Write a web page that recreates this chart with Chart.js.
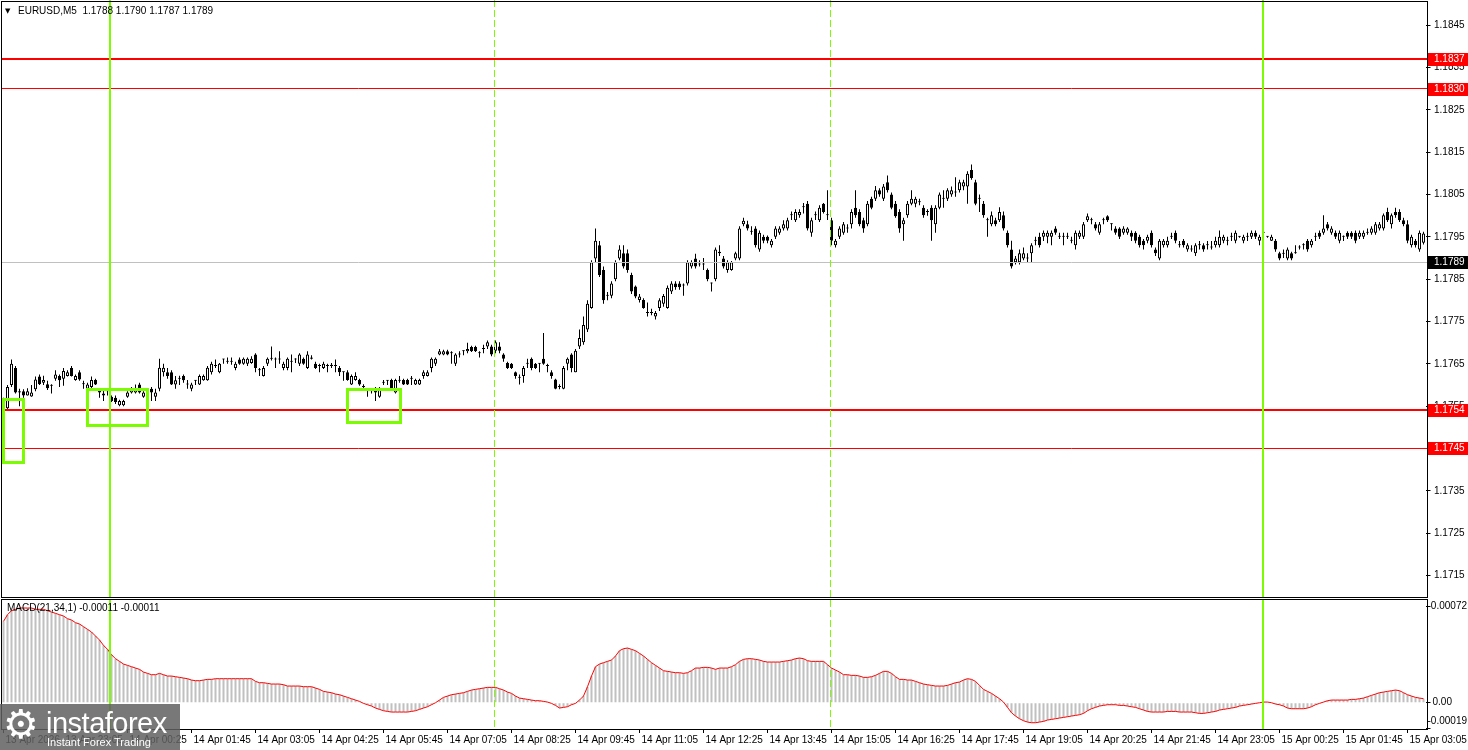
<!DOCTYPE html>
<html>
<head>
  <meta charset="utf-8">
  <title>EURUSD M5 with MACD</title>
  <script src="https://cdn.jsdelivr.net/npm/chart.js"></script>
  <style>
    body { margin: 0; background: #fff; width: 1468px; height: 750px; overflow: hidden; position: relative; }
    canvas { position: absolute; left: 0; }
    #priceChart { top: 0; }
    #macdChart { top: 598px; }
    #logo { position: absolute; left: 0; top: 704px; width: 180px; height: 46px; background: rgba(96, 96, 96, 0.85); color: #fff; font-family: 'Liberation Sans', Arial, sans-serif; }
    #logo .gear { position: absolute; left: 3px; top: -3px; font: 40px 'DejaVu Sans'; }
    #logo .brand { position: absolute; left: 46px; top: 3px; font-size: 29px; letter-spacing: -0.5px; }
    #logo .tag { position: absolute; left: 47px; top: 32px; font-size: 11px; }
  </style>
</head>
<body>
  <canvas id="priceChart" width="1468" height="598"></canvas>
  <canvas id="macdChart" width="1468" height="152"></canvas>
  <div id="logo"><span class="gear">⚙</span><span class="brand">instaforex</span><span class="tag">Instant Forex Trading</span></div>
  <script>
    // prices are kept in pips above 1.1700, one entry per M5 bar (13 Apr 21:50 .. 15 Apr 03:25)
    const PIP_BASE = 1.17;
    const openPips = [
      50.5, 54.5, 60, 64, 58.2, 58.5, 57.5, 57.3, 59, 62,
      60.5, 60.2, 59.8, 61.5, 62.1, 61.5, 62.1, 64, 61.2, 63,
      60.2, 59.1, 59.5, 61.2, 58.9, 58, 58.5, 57.2, 57, 55.2,
      55.2, 57.2, 58.2, 58.2, 60.1, 57.2, 58.2, 59.1, 57.2, 59.1,
      63, 63, 63, 60.1, 61.5, 62.1, 60.1, 59.1, 61, 60.1,
      61.1, 61.1, 63, 64.5, 63, 66, 65.5, 65.5, 64, 66,
      65, 65, 65.2, 67.2, 63.5, 62.1, 65, 66.2, 66.2, 66,
      64, 64, 65.5, 66, 65, 66.2, 64, 66.5, 65, 64.5,
      64, 64.5, 64.5, 64.5, 64, 63, 63, 60.1, 61.2, 61.2,
      59.5, 59.1, 58.7, 59.1, 57.2, 60.5, 61, 61.2, 58.2, 61,
      61.2, 61.2, 61.5, 60.1, 60.1, 62.1, 62.1, 64, 65, 67.2,
      67.2, 68, 67.5, 65, 67.2, 68, 68, 69, 69, 67.5,
      68.5, 69.1, 69.1, 68.1, 69.1, 67.2, 65.2, 65, 63, 61.7,
      62.1, 65, 66.2, 65, 65, 66.2, 64.5, 63, 61.3, 59.5,
      59.1, 65, 67.2, 63, 69.1, 70.1, 73.1, 78.2, 89.9, 93,
      87.2, 81.1, 81.1, 85, 89.9, 91.1, 91.1, 86, 83.3, 80.1,
      80.1, 77, 77, 76.2, 78.2, 79.2, 78.2, 82.1, 84, 84,
      83.5, 84, 88, 89.9, 88.5, 88.5, 87.2, 84, 85, 91.5,
      89.9, 87.2, 87.2, 89.9, 89.9, 98, 98, 96.2, 97, 92,
      95, 95, 93, 95, 96, 97, 97, 100.1, 98.9, 100.1,
      102, 102.8, 96, 100.1, 98.9, 102.8, 100.1, 98.9, 93, 95,
      96, 97, 98, 101.9, 100.9, 98.9, 98, 104, 104, 106,
      104, 107.9, 105, 102.8, 100.9, 98, 100.1, 102.8, 102.8, 103.2,
      101.9, 100.9, 101.9, 98, 101.9, 104, 104, 105, 105.5, 106,
      106.9, 106.9, 110.8, 107.9, 104, 102.8, 98.9, 98, 98.9, 98.9,
      100.1, 96, 92, 89, 89, 89.9, 89.9, 91.1, 94.1, 95,
      95, 95, 95, 97, 95, 95, 95, 94.1, 93, 95,
      95, 98.9, 98.9, 98, 96, 98.9, 99.9, 98, 97, 97,
      96, 96, 96, 96, 95, 94.1, 94.1, 96, 92, 89.9,
      93, 93, 95, 96, 93, 94.1, 92, 92, 91.1, 93,
      93, 93, 92.5, 93, 93, 94.1, 94.1, 95, 94.1, 95,
      94.1, 95, 95, 96, 94.1, 96, 95, 94.1, 94.1, 91.1,
      91, 89.9, 91.1, 91.1, 92.5, 93, 94.1, 93, 95, 96,
      96, 98, 96, 96, 94.1, 95, 96, 96, 96, 95,
      95, 96, 96, 96, 97, 97, 100.9, 98, 100.9, 100.9,
      98.9, 98, 93, 94.1, 92, 93.6
    ];
    const highPips = [
      57, 60, 66, 64.5, 59.1, 59, 59.2, 60, 62, 62.5,
      62.2, 61, 60.2, 63.5, 62.5, 64, 63.5, 64.5, 62.5, 63.5,
      61, 60.5, 62, 61.5, 59.2, 59.1, 58.8, 57.5, 57.5, 56.5,
      56.5, 58.5, 59.5, 60.1, 60.5, 58.5, 59, 59.5, 59.1, 66.2,
      65, 64, 63.5, 62.1, 62.2, 62.5, 61.2, 60.5, 61.2, 62.5,
      62.5, 64.5, 65.5, 66, 65.2, 66.2, 66.5, 66.5, 65.5, 66.5,
      66.5, 66.5, 66.8, 67.5, 64, 64.5, 66.5, 69.1, 66.5, 68,
      65.5, 66.5, 67.2, 66.3, 67.5, 66.5, 68, 67, 65.5, 65,
      65.5, 65, 65.2, 66, 64.5, 63.2, 63.5, 62.5, 63, 61.5,
      60.2, 59.3, 59.3, 59.5, 59.5, 61.2, 61.2, 61.5, 61.5, 62.1,
      61.5, 61.5, 62.1, 61.5, 61.5, 63.5, 63.5, 66.5, 66.5, 68.5,
      68.3, 68.3, 68, 67.5, 68, 68.2, 70, 69.3, 69.3, 68,
      69.5, 70.5, 69.5, 70.5, 70.1, 67.5, 65.5, 65.2, 63.2, 62.5,
      64.5, 66.2, 66.5, 65.2, 65.2, 72.3, 65, 63.5, 61.5, 60.2,
      64.5, 66.5, 67.5, 68.5, 73.1, 76.2, 80, 89.5, 97, 94,
      88, 82, 84.5, 89.5, 93, 93, 92, 86.5, 83.5, 81.5,
      80.5, 79.5, 78, 77.5, 80.5, 81.5, 83.5, 84.5, 84.5, 84.5,
      84, 89.5, 89.5, 91, 89.5, 90, 87.5, 84.2, 92.5, 93,
      90.5, 89.5, 89.3, 91.5, 97.5, 99.5, 98.8, 97.5, 97.5, 96.5,
      95.5, 95.3, 94.5, 97.5, 97.5, 98.9, 99.5, 101, 101.5, 101.5,
      103, 103.5, 99.5, 101, 102.5, 103, 106, 99.5, 94.5, 97.5,
      98.5, 98, 101.5, 106, 101.5, 99.5, 103.5, 104.5, 107, 106.5,
      107.5, 109.5, 105.5, 103.5, 101.5, 99.5, 103.5, 106, 104.5, 104,
      102.5, 101.5, 102.5, 102.5, 105.5, 106, 106.5, 106.9, 109.1, 108.5,
      108.5, 110.5, 112.1, 108.5, 105, 103.5, 99.5, 101, 99.5, 102,
      101, 96.5, 94.1, 90.5, 92, 92.5, 91.1, 93.5, 95, 96,
      96.5, 96.5, 96.5, 97.5, 96, 96, 96, 95, 96.5, 96.5,
      98.5, 100.5, 99.5, 98.5, 98.5, 99.5, 100.1, 98.2, 97.5, 97.3,
      97.5, 97.3, 96.5, 96.3, 95.5, 94.5, 95.5, 96.5, 92.5, 94.5,
      94.5, 95, 96, 96.5, 94, 94.5, 93.5, 93, 93.5, 94,
      93.5, 94, 94, 95, 96.5, 95.5, 95, 96, 96.5, 95.2,
      95.5, 96, 96.5, 96.5, 95.5, 96.2, 95.2, 95.5, 94.5, 91.5,
      92, 92.5, 91.5, 93, 93, 93.5, 94.5, 94.5, 96, 96.5,
      100.1, 98.5, 97.5, 96.5, 96.5, 95.3, 96.3, 96.3, 96.5, 96.5,
      96.5, 97, 97.5, 98.5, 98.5, 100.5, 101.9, 100.5, 101.9, 101.5,
      99.5, 98.9, 95.5, 94.5, 96.5, 96.2
    ];
    const lowPips = [
      49, 54, 59.5, 58, 55, 57, 57.5, 57.2, 58.5, 60,
      60, 58.8, 58, 61, 59.5, 59.8, 62, 62, 61, 61,
      59.1, 59, 59, 60, 57, 56.2, 57.5, 56, 55.5, 55,
      55, 57, 58, 58, 58, 57, 57.5, 56.2, 56.2, 58.5,
      62, 61.5, 60, 59.1, 60, 60.5, 59.1, 58.5, 60, 60,
      61, 61, 62.5, 64, 62.8, 65, 65, 64.8, 63.5, 64.8,
      64.8, 64.5, 65, 63, 62.1, 62, 64.5, 65.8, 64, 65,
      63.5, 63.5, 63, 65.2, 64.5, 64.8, 63.8, 66, 63.8, 63,
      63.8, 63, 64, 63, 62.1, 61, 61, 60, 61, 59.8,
      59, 57.2, 58, 56.2, 57, 60, 60, 59, 58, 60.5,
      60, 60, 60, 60, 60, 61.5, 62, 63, 64.5, 67,
      67, 67, 65, 64.5, 66.5, 67, 67.5, 67.8, 67.8, 66.5,
      67.5, 68.5, 66.8, 67.5, 67.5, 65.5, 63.8, 63.8, 61.5, 60.1,
      60.5, 64, 63.5, 63.8, 63, 64.8, 63, 61.5, 59, 59,
      59, 63.5, 63, 63, 68.5, 69.5, 72.5, 78, 89, 85.5,
      79.2, 80, 80.5, 84.5, 89.5, 87.5, 86.5, 81.5, 80.5, 79.5,
      78, 76.2, 76.5, 75.5, 77.5, 78.5, 78, 81.5, 82.5, 82.5,
      81.1, 83.5, 87.5, 87.5, 88, 87.2, 84.5, 82.1, 84.5, 90.5,
      87.5, 86.5, 87, 89.5, 89.5, 97.5, 96.5, 95.5, 92.5, 91.5,
      93.5, 93.5, 92.5, 94.5, 95.5, 96.5, 96.5, 99, 98.5, 99.5,
      100.5, 96.5, 95, 99, 98.5, 100.5, 99, 93, 92.5, 94.5,
      95.5, 96, 97, 99.5, 97.5, 96, 97.5, 101.5, 103.5, 104.5,
      103.5, 105.5, 101.5, 99.5, 96, 94.1, 99.5, 102.5, 102, 102.5,
      99.5, 100, 94.1, 96, 101.5, 101.9, 103.5, 104.5, 104.5, 105.5,
      106, 102.8, 108.5, 102.5, 100.9, 99.5, 95, 97.5, 97.5, 98.5,
      96.5, 92.5, 87.5, 88.5, 88.5, 89.5, 89, 89, 93, 92.5,
      94, 93.5, 93, 95.5, 94.5, 93, 94.5, 93.5, 92, 94.5,
      94.5, 98.5, 98, 96.5, 95.5, 98, 98.5, 96.5, 95.5, 94.5,
      95.5, 95.5, 94, 93.5, 92.5, 92, 93.5, 92.5, 90.5, 89.5,
      92.5, 92.5, 94.5, 93.5, 92.5, 92.5, 91.5, 91.5, 90.5, 92,
      91.5, 92, 92, 92.5, 92.5, 93.5, 93, 94, 93.5, 94.8,
      93.5, 94, 94.5, 94.5, 93, 95.8, 94.8, 94, 91.5, 89.5,
      90, 89.5, 89.5, 91, 92, 92, 91.5, 92.5, 94, 94.5,
      95.5, 96.5, 95.5, 94.5, 93.5, 94, 94.5, 94.5, 93.5, 94.5,
      94.5, 95.5, 95.5, 95.5, 96.5, 96.5, 98.5, 97, 99.5, 98.5,
      97.5, 93.5, 92.5, 92.5, 91.5, 93.2
    ];
    const closePips = [
      56, 59.5, 65, 58.2, 58.5, 57.5, 58.5, 58.2, 61.3, 60.2,
      61.2, 59.2, 60, 62.5, 61.1, 63.3, 63, 62.1, 62.1, 61.3,
      60.2, 60.1, 61.2, 60.1, 58.2, 57.5, 58.5, 56.2, 56, 56.2,
      56.2, 58.2, 59.1, 59.1, 58.2, 58.2, 58.5, 58.2, 58.2, 64.1,
      64.1, 62.1, 60.1, 61.1, 61.5, 61.1, 60.1, 60.1, 61, 62.1,
      62.1, 64.1, 65, 64.5, 65, 66, 65.5, 65.5, 65, 65,
      66.2, 66.2, 66.2, 64, 63.5, 64, 66.2, 66.2, 66, 66,
      65, 66.2, 65.5, 66, 67.2, 65, 67.2, 66.2, 64, 64.5,
      65, 64.5, 64.8, 64.5, 63, 63, 61.2, 62.1, 62.1, 60.1,
      59.5, 59, 58.7, 58.2, 59.1, 60.5, 61, 59.1, 61.2, 61,
      60.1, 60.1, 61.5, 61.2, 61.2, 63, 63, 66.2, 66.2, 68,
      68, 67.2, 67.5, 67.2, 67.2, 68, 68.5, 68, 68, 67.5,
      68.5, 70.1, 67.2, 70.1, 68.1, 66.2, 64, 64, 62.1, 61.7,
      64, 65, 64, 64, 65, 65, 64.5, 62.1, 59.1, 59.5,
      64, 66.2, 64, 68.1, 71.1, 74.2, 79.2, 89, 94.1, 86,
      80, 81.1, 84, 89, 92, 88, 87.2, 82.1, 80.9, 80.9,
      78.2, 77, 77, 77, 80, 81, 83, 84, 83.1, 83.1,
      83.5, 89, 89, 88, 88.5, 88.5, 85, 84, 92, 91.1,
      88, 89, 89, 91.1, 97, 98.8, 97, 96.2, 93, 96,
      94.1, 94.1, 94.1, 97, 97, 98, 98.9, 100.1, 100.9, 100.9,
      102, 97, 98.9, 100.1, 101.9, 100.9, 100.1, 94.1, 94.1, 97,
      98, 97, 100.9, 100.1, 98, 97, 102.8, 101.9, 106, 105,
      106.9, 106, 101.9, 99.9, 97, 98.9, 102.8, 104, 104, 103.2,
      100.1, 100.9, 98.9, 101.9, 105, 104, 106, 106, 105.5, 107.9,
      107.9, 109.9, 108.9, 102.8, 104, 100.1, 98.9, 100.1, 98, 100.9,
      97, 93, 88, 89.9, 91.1, 91.1, 89.9, 93, 94.1, 93,
      96, 96, 96, 96, 95, 95, 95, 94.1, 96, 96,
      98, 99.9, 98.9, 97, 98, 98.9, 98.9, 98, 96, 95,
      97, 97, 95, 94.1, 93, 93, 95, 93, 91.1, 94.1,
      94.1, 94.1, 95, 94.1, 93, 93, 93, 92, 93, 93,
      92, 93, 92.5, 94.1, 95, 95, 94.1, 95, 96, 95,
      95, 95, 96, 95, 95, 96, 95, 95, 92, 89.9,
      91, 92, 89.9, 91.1, 92.5, 93, 92, 94.1, 95, 95,
      97, 97, 97, 95, 96, 95, 95, 95, 94.1, 96,
      96, 96, 97, 98, 98, 100.1, 98.9, 100.1, 100.1, 98.9,
      98, 94.1, 95, 93, 96, 95.8
    ];
    // MACD(21,34,1) main value per bar, in points (0.00001); the signal SMA(1) equals it
    const macdPoints = [
      61, 66, 69, 70, 71, 71, 71, 71, 70, 70, 70,
      69, 68, 67, 66, 65, 63, 62, 60, 59, 57,
      55, 53, 50, 47, 43, 40, 36, 33, 31, 29,
      28, 27, 26, 25, 23, 22, 21, 21, 22, 21,
      20, 20, 19.5, 19, 18.5, 18, 17, 16.5, 16.5, 17,
      17.5, 17.5, 18, 18, 18, 18, 18, 18, 18, 18,
      18, 18, 16, 15, 15, 14.5, 14, 14, 14, 13.5,
      12.5, 12.5, 12.5, 12.5, 12, 12, 12, 11, 10, 8.5,
      8, 7.5, 6.5, 6, 5, 4, 3, 2, 1, -0.5,
      -1.5, -2.5, -4, -5, -6, -6.5, -7, -7, -7, -7,
      -7, -6.5, -6, -5, -4, -3, -1.5, 0, 2, 4,
      5, 6, 6.5, 7, 7.5, 8.5, 9.5, 10, 10.5, 11,
      11.5, 11.5, 11.5, 10.5, 9.5, 8, 7, 5, 3.5, 3,
      2.5, 2, 1.5, 1.5, 1, 0.5, -0.5, -2, -4, -3.5,
      -3, -1.5, -0.5, 2, 5, 12, 20, 27, 29, 30,
      31, 32, 35, 39, 40.5, 41, 40, 39, 37, 35,
      32.5, 30, 28, 26, 24, 23.5, 23, 22.5, 22.5, 22,
      22.5, 24, 26, 26, 26.5, 26.5, 26, 25, 26, 26,
      26, 27, 28.5, 31, 32.5, 33, 33, 32.5, 32, 31,
      30.5, 30.5, 30.5, 30.5, 31, 31.5, 32, 33, 33.5, 33,
      31.5, 31, 31, 31, 31, 28.5, 26, 24.5, 23, 21,
      21, 20.5, 20.5, 20, 19, 19, 19.5, 20.5, 22, 23.5,
      23.5, 22, 19.5, 17.5, 17.5, 17, 17, 16, 15, 14,
      13.5, 13, 12.5, 12.5, 12.5, 13, 14, 15, 15.5, 17,
      18, 17.5, 16, 13, 10, 8.5, 7, 5, 3, 0.5,
      -3.5, -7.5, -10, -12, -13.5, -14.5, -15, -15, -14.5, -14,
      -13, -12.5, -12, -11.5, -11, -10.5, -10, -9.5, -9, -8,
      -6, -4.5, -3.5, -2.5, -2, -1.5, -1.5, -1.5, -2, -2,
      -2.5, -3, -3.5, -4.5, -5.5, -6.5, -7, -7, -7, -7,
      -6.5, -6.5, -6.5, -7, -7, -7, -7, -7.5, -8, -8,
      -7.5, -7, -6.5, -5.5, -5, -4.5, -4, -3.5, -2.5, -2,
      -1.5, -1, -0.5, 0, 0.5, 0.5, 0, -1, -1.5, -2.5,
      -4, -4.5, -4.5, -4.5, -4.5, -4, -3, -1.5, -0.5, 0.5,
      1.5, 2, 2, 2, 2, 2, 2.5, 2.5, 3, 3.5,
      4.5, 5.5, 6.5, 7.5, 8, 8.5, 9, 9.5, 9, 7.5,
      6, 5, 4, 3.5, 3
    ];

    const priceTicks = [1.1715, 1.1725, 1.1735, 1.1745, 1.1755, 1.1765, 1.1775, 1.1785,
                        1.1795, 1.1805, 1.1815, 1.1825, 1.1835, 1.1845];
    const macdTicks = [0.00072, 0, -0.00019];
    const timeTickBars = [0, 15, 31, 47, 63, 79, 95, 111, 127, 143, 159, 175,
                          191, 207, 223, 239, 255, 271, 287, 303, 319, 335, 351];
    const timeTickLabels = ['13 Apr 2026', '13 Apr 23:05', '14 Apr 00:25', '14 Apr 01:45', '14 Apr 03:05',
      '14 Apr 04:25', '14 Apr 05:45', '14 Apr 07:05', '14 Apr 08:25', '14 Apr 09:45', '14 Apr 11:05',
      '14 Apr 12:25', '14 Apr 13:45', '14 Apr 15:05', '14 Apr 16:25', '14 Apr 17:45', '14 Apr 19:05',
      '14 Apr 20:25', '14 Apr 21:45', '14 Apr 23:05', '15 Apr 00:25', '15 Apr 01:45', '15 Apr 03:05'];

    // horizontal levels: 1.1837, 1.1830, bid 1.1789, 1.1754, 1.1745
    const levelPrices = [1.1837, 1.1830, 1.1789, 1.1754, 1.1745];
    // zones: [fromBar, toBar, upper price, lower price]
    const zoneBoxes = [
      [-0.2, 4.95, 1.17568, 1.17417],
      [20.95, 35.95, 1.17590, 1.17505],
      [85.95, 99.1, 1.17590, 1.17513]
    ];
    const dayLineBars = [26.7, 314.8];     // 14 Apr 00:00, 15 Apr 00:00
    const sessionLineBars = [122.8, 206.8]; // 08:00, 15:00
    const symbolName = 'EURUSD,M5';
    const lastQuote = [1.1788, 1.1790, 1.1787, 1.1789];
    const macdHeader = [-0.00011, -0.00011];

    const toPrice = p => +(PIP_BASE + p / 10000).toFixed(5);
    const barLabels = openPips.map((_, i) => i);
    const bodies = openPips.map((o, i) => [toPrice(o), toPrice(closePips[i])]);
    const wicks = lowPips.map((l, i) => [toPrice(l), toPrice(highPips[i])]);
    const bodyColors = openPips.map((o, i) => closePips[i] > o ? '#ffffff' : '#000000');
    const macdSeries = macdPoints.map(v => v / 100000);
    const tickLabelAt = {};
    timeTickBars.forEach((b, i) => { tickLabelAt[b] = timeTickLabels[i]; });

    const FONT = '"Liberation Sans", Arial, sans-serif';
    const FSIZE = 10;
    const GREEN = '#7cfc00';
    const levelStyles = [
      { line: '#ff0000', width: 2, box: '#ff0000' },
      { line: '#ff0000', width: 1, box: '#ff0000' },
      { line: '#c0c0c0', width: 1, box: '#000000' },
      { line: '#ff0000', width: 2, box: '#ff0000' },
      { line: '#ff0000', width: 1, box: '#ff0000' }
    ];

    function crisp(v, w) { return w % 2 ? Math.round(v - 0.5) + 0.5 : Math.round(v); }

    function drawVerticals(chart, top, bottom) {
      const { ctx } = chart;
      const xs = chart.scales.x;
      ctx.save();
      ctx.strokeStyle = GREEN;
      ctx.lineWidth = 2;
      dayLineBars.forEach(b => {
        const px = crisp(xs.getPixelForValue(b), 2);
        ctx.beginPath(); ctx.moveTo(px, top); ctx.lineTo(px, bottom); ctx.stroke();
      });
      ctx.lineWidth = 1;
      ctx.setLineDash([7, 3]);
      sessionLineBars.forEach(b => {
        const px = crisp(xs.getPixelForValue(b), 1);
        ctx.beginPath(); ctx.moveTo(px, top); ctx.lineTo(px, bottom); ctx.stroke();
      });
      ctx.restore();
    }

    function drawFrame(chart) {
      const { ctx, chartArea: a } = chart;
      ctx.save();
      ctx.strokeStyle = '#000';
      ctx.lineWidth = 1;
      ctx.strokeRect(a.left, a.top - 0.5, a.right + 2 - a.left, a.bottom - a.top + 1);
      ctx.restore();
    }

    const priceOverlay = {
      id: 'priceOverlay',
      afterDraw(chart) {
        const { ctx, chartArea: a } = chart;
        const xs = chart.scales.x, ys = chart.scales.y;
        ctx.save();
        levelPrices.forEach((p, i) => {
          const st = levelStyles[i];
          const y = crisp(ys.getPixelForValue(p), st.width);
          ctx.strokeStyle = st.line;
          ctx.lineWidth = st.width;
          ctx.beginPath(); ctx.moveTo(a.left, y); ctx.lineTo(a.right + 3, y); ctx.stroke();
        });
        ctx.strokeStyle = GREEN;
        ctx.lineWidth = 3;
        zoneBoxes.forEach(z => {
          const x1 = Math.round(xs.getPixelForValue(z[0])), x2 = Math.round(xs.getPixelForValue(z[1]));
          const y1 = Math.round(ys.getPixelForValue(z[2])), y2 = Math.round(ys.getPixelForValue(z[3]));
          ctx.strokeRect(x1 + 0.5, y1 + 0.5, x2 - x1, y2 - y1);
        });
        ctx.restore();
        drawVerticals(chart, 0, a.bottom);
        drawFrame(chart);
        ctx.save();
        ctx.font = FSIZE + 'px ' + FONT;
        ctx.textBaseline = 'middle';
        levelPrices.forEach((p, i) => {
          const y = Math.round(ys.getPixelForValue(p));
          ctx.fillStyle = levelStyles[i].box;
          ctx.fillRect(a.right + 2.5, y - 6, chart.width - a.right - 2.5, 13);
          ctx.fillStyle = '#fff';
          ctx.fillText(p.toFixed(4), a.right + 8.5, y + 0.5);
        });
        ctx.fillStyle = '#000';
        ctx.font = '7px "DejaVu Sans"';
        ctx.fillText('▼', 5, 11);
        ctx.font = FSIZE + 'px ' + FONT;
        ctx.fillText(symbolName + '  ' + lastQuote.map(v => v.toFixed(4)).join(' '), 18, 11);
        ctx.restore();
      }
    };

    const macdOverlay = {
      id: 'macdOverlay',
      afterDraw(chart) {
        const { ctx, chartArea: a } = chart;
        const ys = chart.scales.y;
        drawVerticals(chart, a.top, a.bottom);
        drawFrame(chart);
        ctx.save();
        ctx.fillStyle = '#000';
        ctx.font = FSIZE + 'px ' + FONT;
        ctx.textBaseline = 'middle';
        ctx.fillText('MACD(21,34,1) ' + macdHeader.map(v => v.toFixed(5)).join(' '), 7, a.top + 8);
        // axis values, kept inside the window like the terminal does
        macdTicks.forEach(v => {
          const txt = v === 0 ? '0.00' : v.toFixed(5);
          const w = ctx.measureText(txt).width;
          const y = Math.min(ys.getPixelForValue(v), a.bottom - 8);
          const x = Math.min(a.right + 7, chart.width - 1 - w);
          ctx.fillText(txt, x, y);
        });
        ctx.restore();
      }
    };

    const rightAxis = (min, max, ticks, fmt, showLabels) => ({
      position: 'right',
      min: min,
      max: max,
      afterBuildTicks: s => { s.ticks = ticks.map(v => ({ value: v })); },
      afterFit: s => { s.width = 42.5; s.paddingTop = 0; s.paddingBottom = 0; },
      border: { display: false },
      grid: { drawOnChartArea: false, tickLength: 5, color: '#000' },
      ticks: { display: showLabels, padding: 3.5, color: '#000', font: { family: FONT, size: FSIZE }, callback: fmt }
    });

    new Chart(document.getElementById('priceChart'), {
      type: 'bar',
      data: {
        labels: barLabels,
        datasets: [
          { label: 'wick', data: wicks, backgroundColor: '#000', barThickness: 1, grouped: false, inflateAmount: 0, order: 2 },
          { label: 'body', data: bodies, backgroundColor: bodyColors, borderColor: '#000', borderWidth: 1,
            borderSkipped: false, barThickness: 3, minBarLength: 1, grouped: false, inflateAmount: 0, order: 1 }
        ]
      },
      options: {
        responsive: false,
        devicePixelRatio: 1,
        animation: false,
        events: [],
        layout: { padding: { left: 1.5, top: 2, right: 0, bottom: 1 } },
        plugins: { legend: { display: false }, tooltip: { enabled: false } },
        scales: {
          x: { display: false, offset: true },
          y: rightAxis(1.17099, 1.18505, priceTicks, v => v.toFixed(4), true)
        }
      },
      plugins: [priceOverlay]
    });

    new Chart(document.getElementById('macdChart'), {
      type: 'bar',
      data: {
        labels: barLabels,
        datasets: [
          { type: 'line', label: 'signal', data: macdSeries, borderColor: '#ff0000', borderWidth: 1,
            pointRadius: 0, tension: 0, order: 0 },
          { label: 'MACD', data: macdSeries, backgroundColor: '#c0c0c0', barThickness: 2, grouped: false,
            inflateAmount: 0, order: 1 }
        ]
      },
      options: {
        responsive: false,
        devicePixelRatio: 1,
        animation: false,
        events: [],
        layout: { padding: { left: 1.5, top: 2, right: 0, bottom: 0 } },
        plugins: { legend: { display: false }, tooltip: { enabled: false } },
        scales: {
          x: {
            offset: true,
            afterFit: s => { s.height = 21; s.paddingLeft = 0; s.paddingRight = 0; },
            border: { display: false },
            grid: { drawOnChartArea: false, offset: false, tickLength: 4,
                    color: c => (c.tick && c.tick.label) ? '#000' : 'rgba(0,0,0,0)' },
            ticks: { autoSkip: false, maxRotation: 0, minRotation: 0, align: 'start', labelOffset: 2,
                     padding: 1, color: '#000', font: { family: FONT, size: FSIZE },
                     callback: (v, i) => tickLabelAt[i] !== undefined ? tickLabelAt[i] : null }
          },
          y: rightAxis(-0.000197, 0.00077, macdTicks, v => v.toFixed(5), false)
        }
      },
      plugins: [macdOverlay]
    });
  </script>
</body>
</html>
